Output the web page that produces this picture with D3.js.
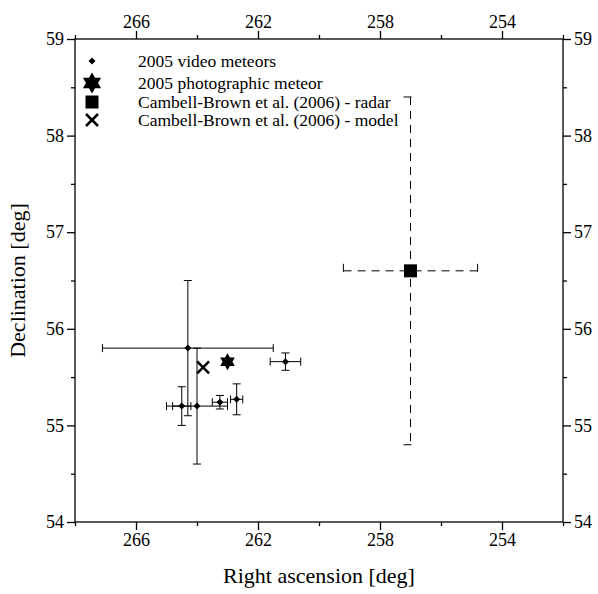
<!DOCTYPE html>
<html>
<head>
<meta charset="utf-8">
<script src="https://cdn.jsdelivr.net/npm/d3@7"></script>
<style>
body { margin: 0; background: #fff; }
svg text { font-family: "Liberation Serif", "Times New Roman", serif; fill: #000; }
</style>
</head>
<body>
<div id="chart"></div>
<script>
// 2005 video meteors (RA, Dec and their errors, deg)
const videoRA = [264.3, 264.0, 264.5, 263.25, 262.7, 261.1];
const videoDec = [55.8, 55.2, 55.2, 55.24, 55.27, 55.66];
const videoRAErr = [2.8, 1.0, 0.3, 0.25, 0.2, 0.5];
const videoDecErr = [0.7, 0.6, 0.2, 0.07, 0.16, 0.09];

// 2005 photographic meteor
const photoRA = [263.0];
const photoDec = [55.66];

// Cambell-Brown et al. (2006)
const radarRA = [257.0];
const radarDec = [56.6];
const radarRAErr = [2.2];
const radarDecErr = [1.8];
const modelRA = [263.8];
const modelDec = [55.6];

const legendLabels = [
    "2005 video meteors",
    "2005 photographic meteor",
    "Cambell-Brown et al. (2006) - radar",
    "Cambell-Brown et al. (2006) - model"
];

const xMajor = [266, 262, 258, 254];
const xMinor = [268, 264, 260, 256, 252];
const yMajor = [54, 55, 56, 57, 58, 59];
const yMinor = [54.5, 55.5, 56.5, 57.5, 58.5];

const width = 488;
const height = 483;
const margin = { top: 39, right: 35, bottom: 72, left: 75 };
const serif = '"Liberation Serif", "Times New Roman", serif';

const svg = d3.select("#chart")
    .append("svg")
    .attr("width", 598)
    .attr("height", 594)
    .append("g")
    .attr("transform", "translate(" + margin.left + "," + margin.top + ")");

const x = d3.scaleLinear().domain([268, 252]).range([0, width]);
const y = d3.scaleLinear().domain([54, 59]).range([height, 0]);

// ticks on all four sides, pointing outwards
const sides = [
    [() => d3.axisBottom(x), "translate(0," + height + ")", xMajor, xMinor],
    [() => d3.axisTop(x), "translate(0,0)", xMajor, xMinor],
    [() => d3.axisLeft(y), "translate(0,0)", yMajor, yMinor],
    [() => d3.axisRight(y), "translate(" + width + ",0)", yMajor, yMinor]
];

sides.forEach(s => {
    const g = svg.append("g").attr("transform", s[1]);
    g.append("g").call(s[0]().tickValues(s[3]).tickSize(4).tickFormat(""));
    g.append("g").call(s[0]().tickValues(s[2]).tickSize(8).tickPadding(3)
        .tickFormat(d3.format("d")));
    g.selectAll(".domain").remove();
    g.selectAll("line").attr("stroke", "#000").attr("stroke-width", 1.3);
    g.selectAll("text")
        .style("font-family", serif)
        .style("font-size", "18px")
        .attr("fill", "#000");
});

svg.append("rect")
    .attr("width", width)
    .attr("height", height)
    .attr("fill", "none")
    .attr("stroke", "#000")
    .attr("stroke-width", 1.3);

svg.append("text")
    .attr("x", width / 2)
    .attr("y", height + 61)
    .attr("text-anchor", "middle")
    .style("font-family", serif)
    .style("font-size", "22px")
    .text("Right ascension [deg]");

svg.append("text")
    .attr("transform", "translate(-50," + (height / 2) + ") rotate(-90)")
    .attr("text-anchor", "middle")
    .style("font-family", serif)
    .style("font-size", "22px")
    .text("Declination [deg]");

// error bars
function errorBar(cx, cy, ex, ey, cap, dash) {
    const segs = [
        [x(cx - ex), y(cy), x(cx + ex), y(cy)],
        [x(cx - ex), y(cy) - cap, x(cx - ex), y(cy) + cap],
        [x(cx + ex), y(cy) - cap, x(cx + ex), y(cy) + cap],
        [x(cx), y(cy + ey), x(cx), y(cy - ey)],
        [x(cx) - cap, y(cy + ey), x(cx) + cap, y(cy + ey)],
        [x(cx) - cap, y(cy - ey), x(cx) + cap, y(cy - ey)]
    ];
    segs.forEach(s => {
        svg.append("line")
            .attr("x1", s[0]).attr("y1", s[1])
            .attr("x2", s[2]).attr("y2", s[3])
            .attr("stroke", "#000")
            .attr("stroke-width", 1)
            .attr("stroke-dasharray", dash);
    });
}

for (let i = 0; i < videoRA.length; i++) {
    errorBar(videoRA[i], videoDec[i], videoRAErr[i], videoDecErr[i], 4, null);
}
errorBar(radarRA[0], radarDec[0], radarRAErr[0], radarDecErr[0], 7, "8,6");

// marker shapes
function diamond(g, px, py) {
    g.append("path")
        .attr("d", "M" + px + "," + (py - 3.5) + "L" + (px + 3.5) + "," + py +
            "L" + px + "," + (py + 3.5) + "L" + (px - 3.5) + "," + py + "Z")
        .attr("fill", "#000");
}

function hexagram(g, px, py, r) {
    let pts = [];
    for (let k = 0; k < 12; k++) {
        const a = (-90 + k * 30) * Math.PI / 180;
        const rr = k % 2 === 0 ? r : r / Math.sqrt(3);
        pts.push([px + rr * Math.cos(a), py + rr * Math.sin(a)]);
    }
    g.append("path").attr("d", d3.line()(pts) + "Z").attr("fill", "#000");
}

function square(g, px, py, s) {
    g.append("rect")
        .attr("x", px - s / 2).attr("y", py - s / 2)
        .attr("width", s).attr("height", s)
        .attr("fill", "#000");
}

function cross(g, px, py, s) {
    g.append("path")
        .attr("d", "M" + (px - s) + "," + (py - s) + "L" + (px + s) + "," + (py + s) +
            "M" + (px - s) + "," + (py + s) + "L" + (px + s) + "," + (py - s))
        .attr("stroke", "#000")
        .attr("stroke-width", 2.5)
        .attr("fill", "none");
}

for (let i = 0; i < videoRA.length; i++) {
    diamond(svg, x(videoRA[i]), y(videoDec[i]));
}
photoRA.forEach((d, i) => hexagram(svg, x(d), y(photoDec[i]), 8.5));
radarRA.forEach((d, i) => square(svg, x(d), y(radarDec[i]), 13));
modelRA.forEach((d, i) => cross(svg, x(d), y(modelDec[i]), 6));

// legend
const legend = svg.append("g").attr("transform", "translate(17,22)");
const rowY = [0, 22, 41, 59];
legend.selectAll("text")
    .data(legendLabels)
    .enter()
    .append("text")
    .attr("x", 46)
    .attr("y", (d, i) => rowY[i])
    .attr("dy", "0.35em")
    .style("font-family", serif)
    .style("font-size", "17.5px")
    .text(d => d);

diamond(legend, 0, rowY[0]);
hexagram(legend, 0, rowY[1], 10.5);
square(legend, 0, rowY[2], 13);
cross(legend, 0, rowY[3], 6);
</script>
</body>
</html>
